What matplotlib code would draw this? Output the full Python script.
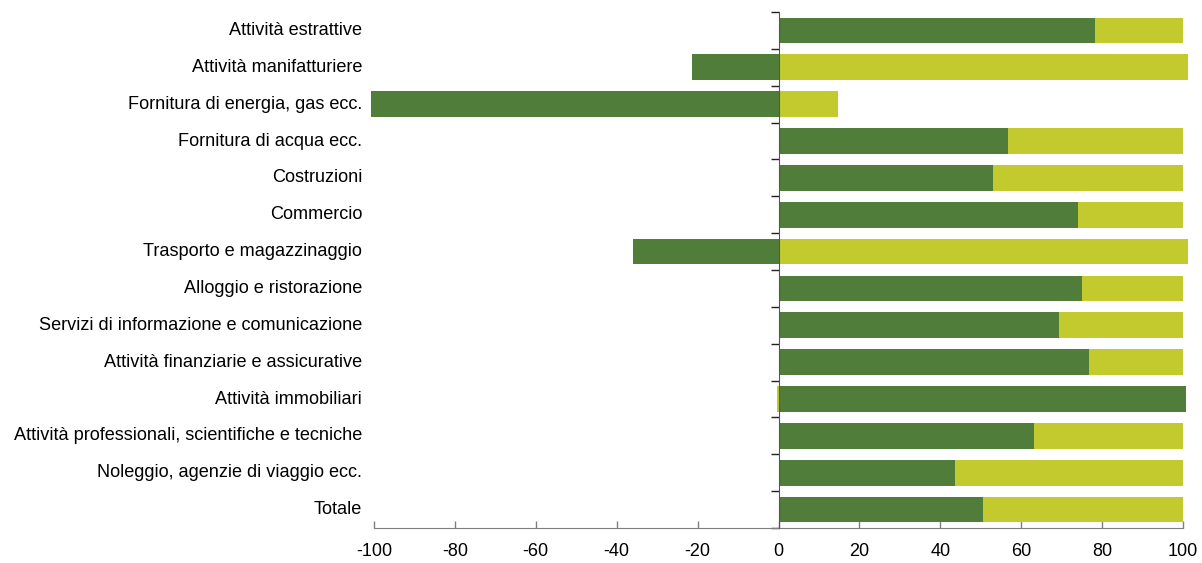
import matplotlib
matplotlib.use("Agg")
import matplotlib.pyplot as plt
import matplotlib.transforms as mtransforms
import numpy as np

plt.rcParams['font.family'] = ['Liberation Sans', 'DejaVu Sans']

categories = [
    "Attività estrattive",
    "Attività manifatturiere",
    "Fornitura di energia, gas ecc.",
    "Fornitura di acqua ecc.",
    "Costruzioni",
    "Commercio",
    "Trasporto e magazzinaggio",
    "Alloggio e ristorazione",
    "Servizi di informazione e comunicazione",
    "Attività finanziarie e assicurative",
    "Attività immobiliari",
    "Attività professionali, scientifiche e tecniche",
    "Noleggio, agenzie di viaggio ecc.",
    "Totale",
]
dark_values = [78.2, -21.3, -100.8, 56.7, 53.0, 74.0, -35.9, 75.0, 69.3, 76.7, 100.7, 63.1, 43.6, 50.5]
light_values = [21.8, 101.3, 14.7, 43.3, 47.0, 26.0, 101.3, 25.0, 30.7, 23.3, -0.4, 36.9, 56.4, 49.5]
xticks = [-100, -80, -60, -40, -20, 0, 20, 40, 60, 80, 100]

DARK = "#507D39"
LIGHT = "#C2CA2E"
AXC = "#7F7F7F"

fig = plt.figure(figsize=(12.02, 5.63), dpi=100)
ax = fig.add_axes([374/1202, 35/563, (1183-374)/1202, (528-12)/563])

y = np.arange(len(categories))
dark = np.array(dark_values)
light = np.array(light_values)
# stacked: positives on positives, negatives on negatives
light_left = np.where(light >= 0, np.where(dark > 0, dark, 0), np.where(dark < 0, dark, 0))

h = 0.7
ax.barh(y, dark, height=h, color=DARK, clip_on=False, zorder=2)
ax.barh(y, light, left=light_left, height=h, color=LIGHT, clip_on=False, zorder=2)

ax.set_xlim(-100, 100)
ax.set_ylim(len(categories) - 0.5, -0.5)

# x axis
ax.set_xticks(xticks)
ax.set_xticklabels([str(t) for t in xticks])
ax.tick_params(axis='x', direction='in', length=5, color=AXC, labelsize=13, pad=11, width=1)
ax.spines['bottom'].set_color(AXC)
ax.spines['top'].set_visible(False)
ax.spines['right'].set_visible(False)

# vertical axis at zero with boundary ticks
ax.spines['left'].set_position(('data', 0))
ax.spines['left'].set_color("#555555")
ax.spines['left'].set_zorder(3)
ax.set_yticks(np.arange(-0.5, len(categories), 1.0))
ax.set_yticklabels([])
ax.tick_params(axis='y', direction='out', length=6, color="#222222", width=1)

# category labels at the left edge
sec = ax.secondary_yaxis(0.0)
sec.set_yticks(y)
sec.set_yticklabels(categories)
sec.tick_params(axis='y', length=0, pad=8.6, labelsize=13.1)
sec.spines['left'].set_visible(False)
offset = mtransforms.ScaledTranslation(0, 0.02, fig.dpi_scale_trans)
for lab in sec.get_yticklabels():
    lab.set_transform(lab.get_transform() + offset)

fig.savefig("out.png", dpi=100)
